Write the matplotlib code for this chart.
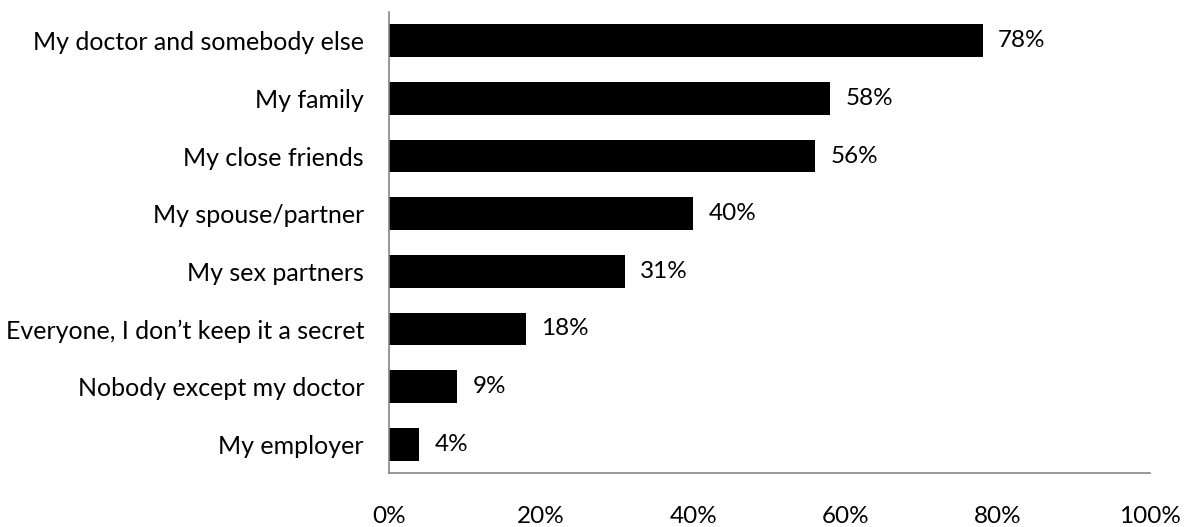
import matplotlib
matplotlib.use("Agg")
import matplotlib.pyplot as plt
from matplotlib.ticker import FuncFormatter

categories = ["My doctor and somebody else", "My family", "My close friends",
              "My spouse/partner", "My sex partners",
              "Everyone, I don\u2019t keep it a secret", "Nobody except my doctor",
              "My employer"]
values = [78, 58, 56, 40, 31, 18, 9, 4]
xticks = [0, 20, 40, 60, 80, 100]

plt.rcParams['font.family'] = ['Lato', 'DejaVu Sans']

fig = plt.figure(figsize=(11.86, 5.27), dpi=100)
W, H = 1186, 527
ax = fig.add_axes([389 / W, 1 - 473 / H, (1150 - 389) / W, (473 - 12) / H])

FS = 17.5
ypos = list(range(len(categories)))
ax.barh(ypos, values, height=0.57, color='black')
ax.set_ylim(len(categories) - 0.5, -0.5)
ax.set_xlim(0, 100)
ax.set_yticks(ypos)
ax.set_yticklabels(categories, fontsize=18)
ax.set_xticks(xticks)
ax.xaxis.set_major_formatter(FuncFormatter(lambda v, p: f"{int(v)}%"))
ax.tick_params(axis='x', length=0, labelsize=FS)
ax.tick_params(axis='y', length=0, labelsize=18)
ax.tick_params(axis='y', pad=18)
ax.tick_params(axis='x', pad=24)

for y, v in zip(ypos, values):
    ax.text(v + 2, y, f"{v}%", va='center', ha='left', fontsize=FS)

for s in ['top', 'right']:
    ax.spines[s].set_visible(False)
for s in ['left', 'bottom']:
    ax.spines[s].set_color('#868686')
    ax.spines[s].set_linewidth(1.2)

fig.savefig("out.png", dpi=100)
